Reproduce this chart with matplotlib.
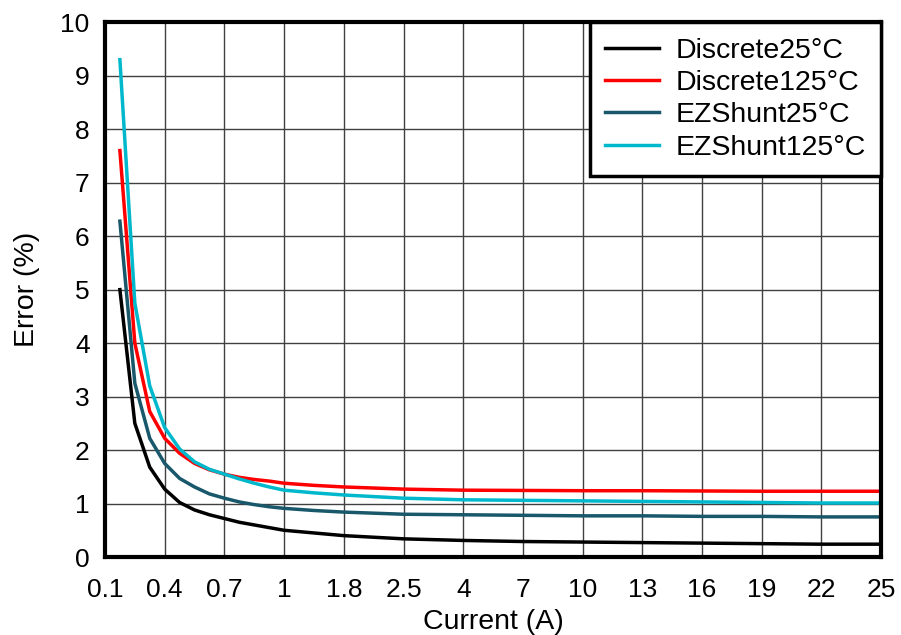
import matplotlib.pyplot as plt

plt.rcParams['font.family'] = ['Liberation Sans', 'DejaVu Sans']

# x tick labels (category axis, one label every 4 categories)
tick_labels = ['0.1', '0.4', '0.7', '1', '1.8', '2.5', '4', '7', '10', '13', '16', '19', '22', '25']

# category positions of the measured points
pos = [1, 2, 3, 4, 5, 6, 7, 8, 9, 10, 11, 12, 14, 16, 20, 24, 28, 32, 36, 40, 44, 48, 52]

discrete25 = [5.0, 2.5, 1.68, 1.27, 1.02, 0.88, 0.79, 0.72, 0.65, 0.60, 0.55, 0.50, 0.45, 0.40,
              0.34, 0.31, 0.29, 0.28, 0.27, 0.26, 0.25, 0.24, 0.24]
discrete125 = [7.6, 4.0, 2.72, 2.22, 1.94, 1.75, 1.63, 1.55, 1.49, 1.45, 1.42, 1.38, 1.34, 1.31,
               1.27, 1.25, 1.245, 1.24, 1.24, 1.235, 1.23, 1.23, 1.23]
ezshunt25 = [6.28, 3.25, 2.22, 1.75, 1.47, 1.31, 1.18, 1.10, 1.03, 0.98, 0.94, 0.91, 0.87, 0.84,
             0.80, 0.79, 0.78, 0.77, 0.77, 0.76, 0.76, 0.75, 0.75]
ezshunt125 = [9.3, 4.75, 3.2, 2.42, 2.02, 1.78, 1.64, 1.55, 1.46, 1.38, 1.31, 1.25, 1.2, 1.16,
              1.10, 1.07, 1.06, 1.05, 1.04, 1.03, 1.02, 1.01, 1.01]

fig = plt.figure(figsize=(9.01, 6.35), dpi=100)
ax = fig.add_axes([0.1165, 0.1228, 0.8615, 0.8422])

ax.plot(pos, discrete25, color='black', lw=2.5, label='Discrete25°C')
ax.plot(pos, discrete125, color='#ff0000', lw=2.5, label='Discrete125°C')
ax.plot(pos, ezshunt25, color='#18586a', lw=2.5, label='EZShunt25°C')
ax.plot(pos, ezshunt125, color='#00b8cc', lw=2.5, label='EZShunt125°C')

ax.set_xlim(0, 52)
ax.set_ylim(0, 10)
ax.set_xticks(range(0, 53, 4))
ax.set_xticklabels(tick_labels)
ax.set_yticks(range(0, 11))
ax.tick_params(length=0, labelsize=19)
ax.tick_params(axis='x', pad=15)
ax.tick_params(axis='y', pad=11)
ax.grid(True, color='#404040', lw=1)
ax.set_axisbelow(True)
for s in ax.spines.values():
    s.set_linewidth(3)

ax.set_xlabel('Current (A)', fontsize=20.5, labelpad=5)
ax.set_ylabel('Error (%)', fontsize=20.5, labelpad=15)

leg = ax.legend(loc='upper right', fontsize=20.5, fancybox=False, framealpha=1,
                edgecolor='black', handlelength=1.9, borderaxespad=0,
                borderpad=0.55, labelspacing=0.22, handletextpad=0.55)
leg.get_frame().set_linewidth(2.5)

fig.savefig('out.png', dpi=100)
